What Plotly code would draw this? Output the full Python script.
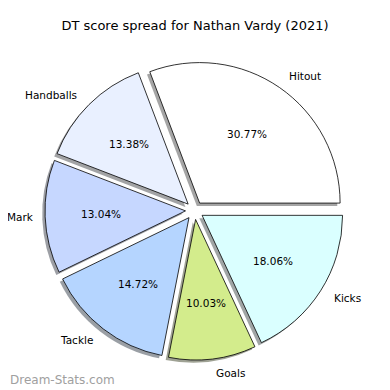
import math
import plotly.graph_objects as go

title = "DT score spread for Nathan Vardy (2021)"
labels = ["Hitout", "Handballs", "Mark", "Tackle", "Goals", "Kicks"]
values = [30.77, 13.38, 13.04, 14.72, 10.03, 18.06]
colors = ["#ffffff", "#e9f0ff", "#c6d7ff", "#b5d5ff", "#d3ec8c", "#daffff"]
watermark = "Dream-Stats.com"

# page geometry (screen px; the page body adds an 8px margin)
OFF = 8
FW = FH = 382
cx, cy = 194.5, 210.5      # pie centre on screen
R = 140.5                  # wedge radius px
D = 9.0                    # explode distance px
SH = 2.8                   # shadow offset px (left / down)
PCT_DIST, LBL_DIST = 0.6, 1.1
FONT = "DejaVu Sans"
FS = 10.5


def px(sx, sy):
    return (sx - OFF) / FW, 1 - (sy - OFF) / FH


def dom(cx_, cy_, half):
    x0, y1 = px(cx_ - half, cy_ - half)
    x1, y0 = px(cx_ + half, cy_ + half)
    return dict(x=[x0, x1], y=[y0, y1])


def shadow_col(hexc):
    h = hexc.lstrip("#")
    r, g, b = (int(h[i:i + 2], 16) for i in (0, 2, 4))
    return f"rgba({int(r*0.3)},{int(g*0.3)},{int(b*0.3)},0.5)"


total = sum(values)
rot = 90 - 360 * values[0] / total    # first wedge starts at 3 o'clock, ccw
pull = [D / R] * len(values)
common = dict(values=values, labels=labels, sort=False, direction="counterclockwise",
              rotation=rot, showlegend=False, hoverinfo="skip", textinfo="none",
              pull=pull)

fig = go.Figure()
fig.add_trace(go.Pie(**common, domain=dom(cx - SH, cy + SH, R + D),
                     marker=dict(colors=[shadow_col(c) for c in colors], line=dict(width=0))))
fig.add_trace(go.Pie(**common, domain=dom(cx, cy, R + D),
                     marker=dict(colors=colors, line=dict(color="#000000", width=0.8))))

annotations = []
cum = 0.0
for lab, v in zip(labels, values):
    mid = math.radians(360 * (cum + v / 2) / total)
    cum += v
    ex, ey = cx + D * math.cos(mid), cy - D * math.sin(mid)
    # percentage
    x, y = px(ex + PCT_DIST * R * math.cos(mid), ey - PCT_DIST * R * math.sin(mid))
    annotations.append(dict(text=f"{100 * v / total:.2f}%", x=x, y=y, xref="paper", yref="paper",
                            xanchor="center", yanchor="middle", showarrow=False,
                            font=dict(family=FONT, size=FS, color="#000000")))
    # label (kept inside the visible page)
    lx = ex + LBL_DIST * R * math.cos(mid)
    right = math.cos(mid) <= 0
    if right:
        lx = max(lx, OFF + 0.65 * FS * len(lab) + 1)
    x, y = px(lx, ey - LBL_DIST * R * math.sin(mid))
    annotations.append(dict(text=lab, x=x, y=y, xref="paper", yref="paper",
                            xanchor="right" if right else "left",
                            yanchor="middle", showarrow=False,
                            font=dict(family=FONT, size=FS, color="#000000")))

wx, wy = px(OFF, 380)
annotations.append(dict(text=watermark, x=wx, y=wy, xref="paper", yref="paper",
                        xanchor="left", yanchor="middle", showarrow=False,
                        font=dict(family=FONT, size=12, color="#a0a0a0")))

tx, ty = px(195, 25)
fig.update_layout(
    width=FW, height=FH, margin=dict(l=0, r=0, t=0, b=0, pad=0, autoexpand=False),
    paper_bgcolor="white", plot_bgcolor="white",
    title=dict(text=title, x=tx, xref="paper", xanchor="center", y=ty, yref="paper",
               yanchor="middle", font=dict(family=FONT, size=13, color="#000000")),
    annotations=annotations,
)

fig.write_html("out.html")
